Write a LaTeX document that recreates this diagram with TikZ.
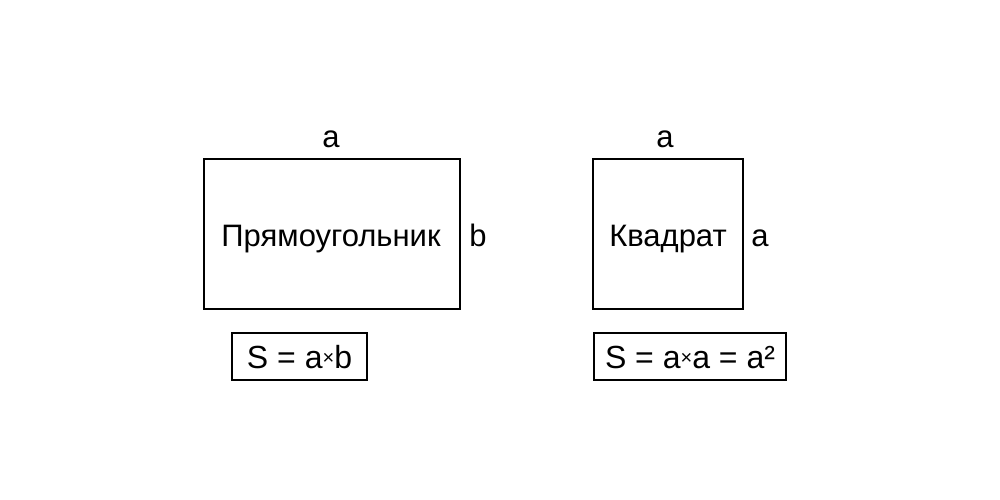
\documentclass[tikz,border=0pt]{standalone}
\usepackage{fontspec}
\setmainfont{Liberation Sans}
\begin{document}
\begin{tikzpicture}[x=1pt,y=-1pt,
  shapebox/.style={draw=black,line width=2pt,inner sep=0pt},
  lbl/.style={font=\fontsize{31}{36}\selectfont,inner sep=0pt},
  ftext/.style={font=\fontsize{32}{36}\selectfont,inner sep=0pt}]
\useasboundingbox[fill=white] (0,0) rectangle (1000,500);
\newcommand{\smx}{{\fontsize{20}{20}\selectfont\raisebox{0.2em}{×}}}
% rectangle
\node[shapebox,minimum width=256pt,minimum height=150pt] (rect) at (332,234) {};
\node[lbl,anchor=base] (rtext) at (331,246) {Прямоугольник};
\node[lbl,anchor=base] (ra) at (331,147) {a};
\node[lbl,anchor=base] (rb) at (478,246) {b};
\node[shapebox,minimum width=135pt,minimum height=47pt] (rf) at (299.5,356.5) {};
\node[ftext,anchor=base] (rft) at (299.5,368) {S = a\smx b};
% square
\node[shapebox,minimum width=150pt,minimum height=150pt] (sq) at (668,234) {};
\node[lbl,anchor=base] (stext) at (668,246) {Квадрат};
\node[lbl,anchor=base] (sa) at (665,147) {a};
\node[lbl,anchor=base] (sb) at (760,246) {a};
\node[shapebox,minimum width=192pt,minimum height=47pt] (sf) at (690,356.5) {};
\node[ftext,anchor=base] (sft) at (690,368) {S = a\smx a = a²};
\end{tikzpicture}
\end{document}
